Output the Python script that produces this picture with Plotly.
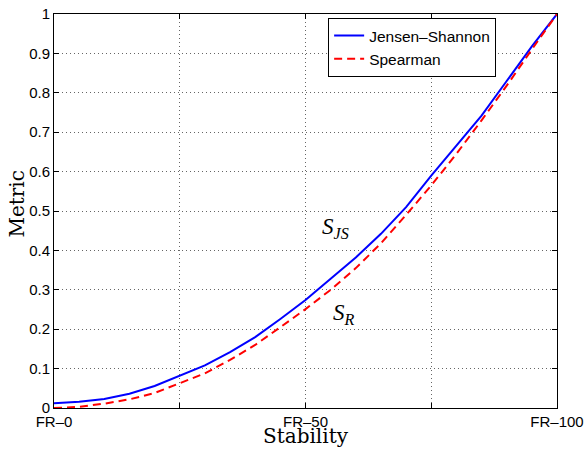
import plotly.graph_objects as go

x_vals = [0, 5, 10, 15, 20, 25, 30, 35, 40, 45, 50, 55, 60, 65, 70, 75, 80, 85, 90, 95, 100]
js_vals = [0.012, 0.016, 0.023, 0.036, 0.056, 0.081, 0.108, 0.142, 0.18, 0.226, 0.274,
           0.328, 0.382, 0.442, 0.51, 0.59, 0.665, 0.742, 0.83, 0.918, 1.0]
sp_vals = [0.0, 0.003, 0.011, 0.022, 0.038, 0.062, 0.088, 0.122, 0.16, 0.205, 0.251,
           0.3, 0.355, 0.418, 0.49, 0.565, 0.645, 0.73, 0.818, 0.91, 1.0]
x_ticks = [0, 25, 50, 75, 100]
x_ticktext = ["FR\u20130", "", "FR\u201350", "", "FR\u2013100"]
y_ticks = [0, 0.1, 0.2, 0.3, 0.4, 0.5, 0.6, 0.7, 0.8, 0.9, 1]
y_ticktext = ["0", "0.1", "0.2", "0.3", "0.4", "0.5", "0.6", "0.7", "0.8", "0.9", "1"]

fig = go.Figure()
fig.add_trace(go.Scatter(x=x_vals, y=js_vals, mode="lines", name="Jensen\u2013Shannon",
                         line=dict(color="#0000ff", width=2)))
fig.add_trace(go.Scatter(x=x_vals, y=sp_vals, mode="lines", name="Spearman",
                         line=dict(color="#ff0000", width=2, dash="8px,5px")))

axis_common = dict(showline=True, linecolor="black", linewidth=1, mirror="ticks",
                   ticks="inside", ticklen=5, tickcolor="black", automargin=False,
                   showgrid=True, gridcolor="#666666", griddash="1px,3px", gridwidth=1,
                   zeroline=False, ticklabeloverflow="allow",
                   tickfont=dict(family="Liberation Sans, Arial", size=15, color="black"))

fig.update_xaxes(range=[0, 100], tickvals=x_ticks, ticktext=x_ticktext, **axis_common)
fig.update_yaxes(range=[0, 1], tickvals=y_ticks, ticktext=y_ticktext, **axis_common)

title_font = dict(family="DejaVu Serif, serif", size=20, color="black")
fig.add_annotation(x=0.5, y=-0.072, xref="paper", yref="paper", showarrow=False,
                   xanchor="center", yanchor="middle", text="Stability", font=title_font)
fig.add_annotation(x=-0.0755, y=0.519, xref="paper", yref="paper", showarrow=False,
                   xanchor="center", yanchor="middle", textangle=-90, text="Metric", font=title_font)

fig.add_annotation(x=55.9, y=0.456, xref="x", yref="y", showarrow=False,
                   text="<i>S</i><sub><i>JS</i></sub>",
                   font=dict(family="Liberation Serif, serif", size=23, color="black"))
fig.add_annotation(x=57.6, y=0.238, xref="x", yref="y", showarrow=False,
                   text="<i>S</i><sub><i>R</i></sub>",
                   font=dict(family="Liberation Serif, serif", size=23, color="black"))

fig.update_layout(
    width=585, height=453,
    margin=dict(l=54, r=28, t=14, b=45),
    plot_bgcolor="white", paper_bgcolor="white",
    showlegend=True,
    legend=dict(x=0.545, y=0.99, xanchor="left", yanchor="top",
                bordercolor="black", borderwidth=1, bgcolor="white",
                font=dict(family="Liberation Sans, Arial", size=15.5, color="black"),
                tracegroupgap=0, itemwidth=30),
)

# remove the page's default 8px body margin so the figure fills the window
fig.write_html("out.html", config={"displayModeBar": False},
               post_script="document.body.style.margin='0px';")
